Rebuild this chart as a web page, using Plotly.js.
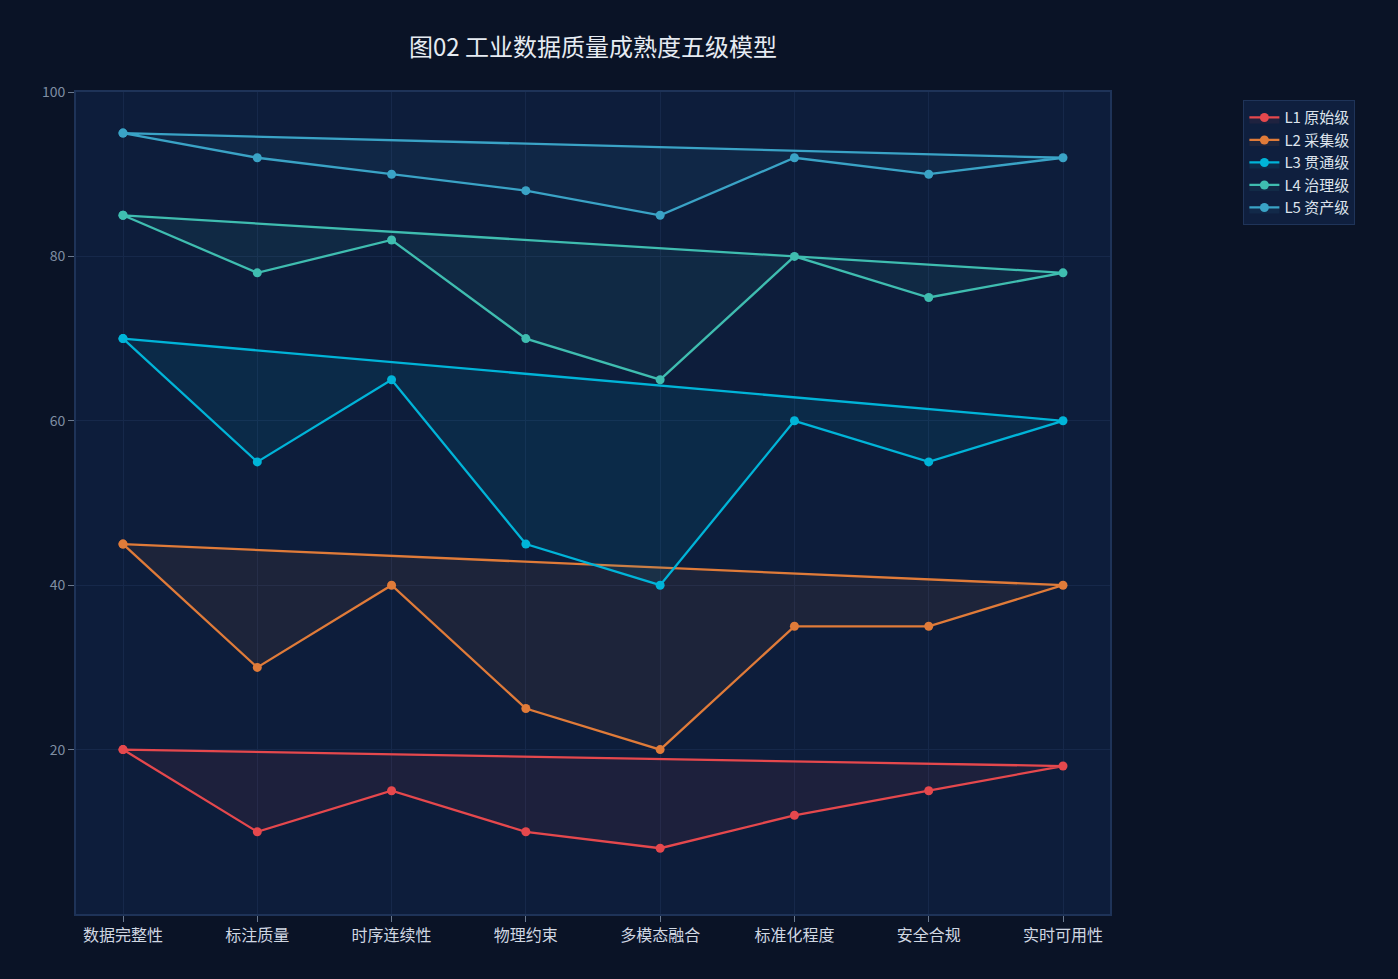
<!DOCTYPE html>
<html>
<head>
<meta charset="utf-8">
<script src="https://cdn.plot.ly/plotly-3.0.1.min.js"></script>
<style>
  html, body { margin: 0; padding: 0; background: #0a1326; }
  #chart { width: 1398px; height: 979px; }
</style>
</head>
<body>
<div id="chart"></div>
<script>
const categories = ['数据完整性', '标注质量', '时序连续性', '物理约束', '多模态融合', '标准化程度', '安全合规', '实时可用性'];
const levelNames = ['L1 原始级', 'L2 采集级', 'L3 贯通级', 'L4 治理级', 'L5 资产级'];
const l1 = [20, 10, 15, 10, 8, 12, 15, 18];
const l2 = [45, 30, 40, 25, 20, 35, 35, 40];
const l3 = [70, 55, 65, 45, 40, 60, 55, 60];
const l4 = [85, 78, 82, 70, 65, 80, 75, 78];
const l5 = [95, 92, 90, 88, 85, 92, 90, 92];
const yTicks = [20, 40, 60, 80, 100];

const levels = [l1, l2, l3, l4, l5];
const colors = ['#e5484d', '#e07b39', '#00b4d8', '#3fbdb0', '#3aa3c6'];
const fills = ['rgba(229,72,77,0.08)', 'rgba(224,123,57,0.08)', 'rgba(0,180,216,0.09)',
               'rgba(63,189,176,0.08)', 'rgba(58,163,198,0.08)'];

// close each polygon back to the first category
const data = levels.map((vals, i) => ({
  x: categories.concat(categories[0]),
  y: vals.concat(vals[0]),
  name: levelNames[i],
  type: 'scatter',
  mode: 'lines+markers',
  fill: 'toself',
  fillcolor: fills[i],
  line: { color: colors[i], width: 2.3 },
  marker: { color: colors[i], size: 9 }
}));

const layout = {
  width: 1398,
  height: 979,
  margin: { l: 76, r: 288, t: 92, b: 65 },
  paper_bgcolor: '#0a1326',
  plot_bgcolor: '#0d1d3b',
  font: { family: 'Noto Sans CJK SC, Noto Sans, sans-serif', color: '#c8d0dc' },
  title: {
    text: '图02 工业数据质量成熟度五级模型',
    x: 0.5, xref: 'paper', y: 0.951, yanchor: 'middle',
    font: { size: 24, color: '#e6ebf2' }
  },
  showlegend: true,
  legend: {
    x: 1.129, xanchor: 'left', y: 0.99, yanchor: 'top',
    bgcolor: '#0f1f3e', bordercolor: '#1f3459', borderwidth: 1,
    font: { size: 15, color: '#dde3ec' },
    tracegroupgap: 3
  },
  xaxis: {
    type: 'category',
    range: [-0.35, 7.35],
    showgrid: true, gridcolor: '#16284a',
    showline: true, linecolor: '#1e3358', linewidth: 2, mirror: true,
    ticks: 'outside', ticklen: 6, tickcolor: '#6b7a90',
    tickfont: { size: 16, color: '#d0d7e2' },
    zeroline: false
  },
  yaxis: {
    range: [0, 100],
    tickvals: yTicks,
    showgrid: true, gridcolor: '#16284a',
    showline: true, linecolor: '#1e3358', linewidth: 2, mirror: true,
    ticks: 'outside', ticklen: 6, tickcolor: '#6b7a90',
    tickfont: { size: 14, color: '#7f8ea3' },
    zeroline: false
  }
};

Plotly.newPlot('chart', data, layout, { displayModeBar: false });
</script>
</body>
</html>
